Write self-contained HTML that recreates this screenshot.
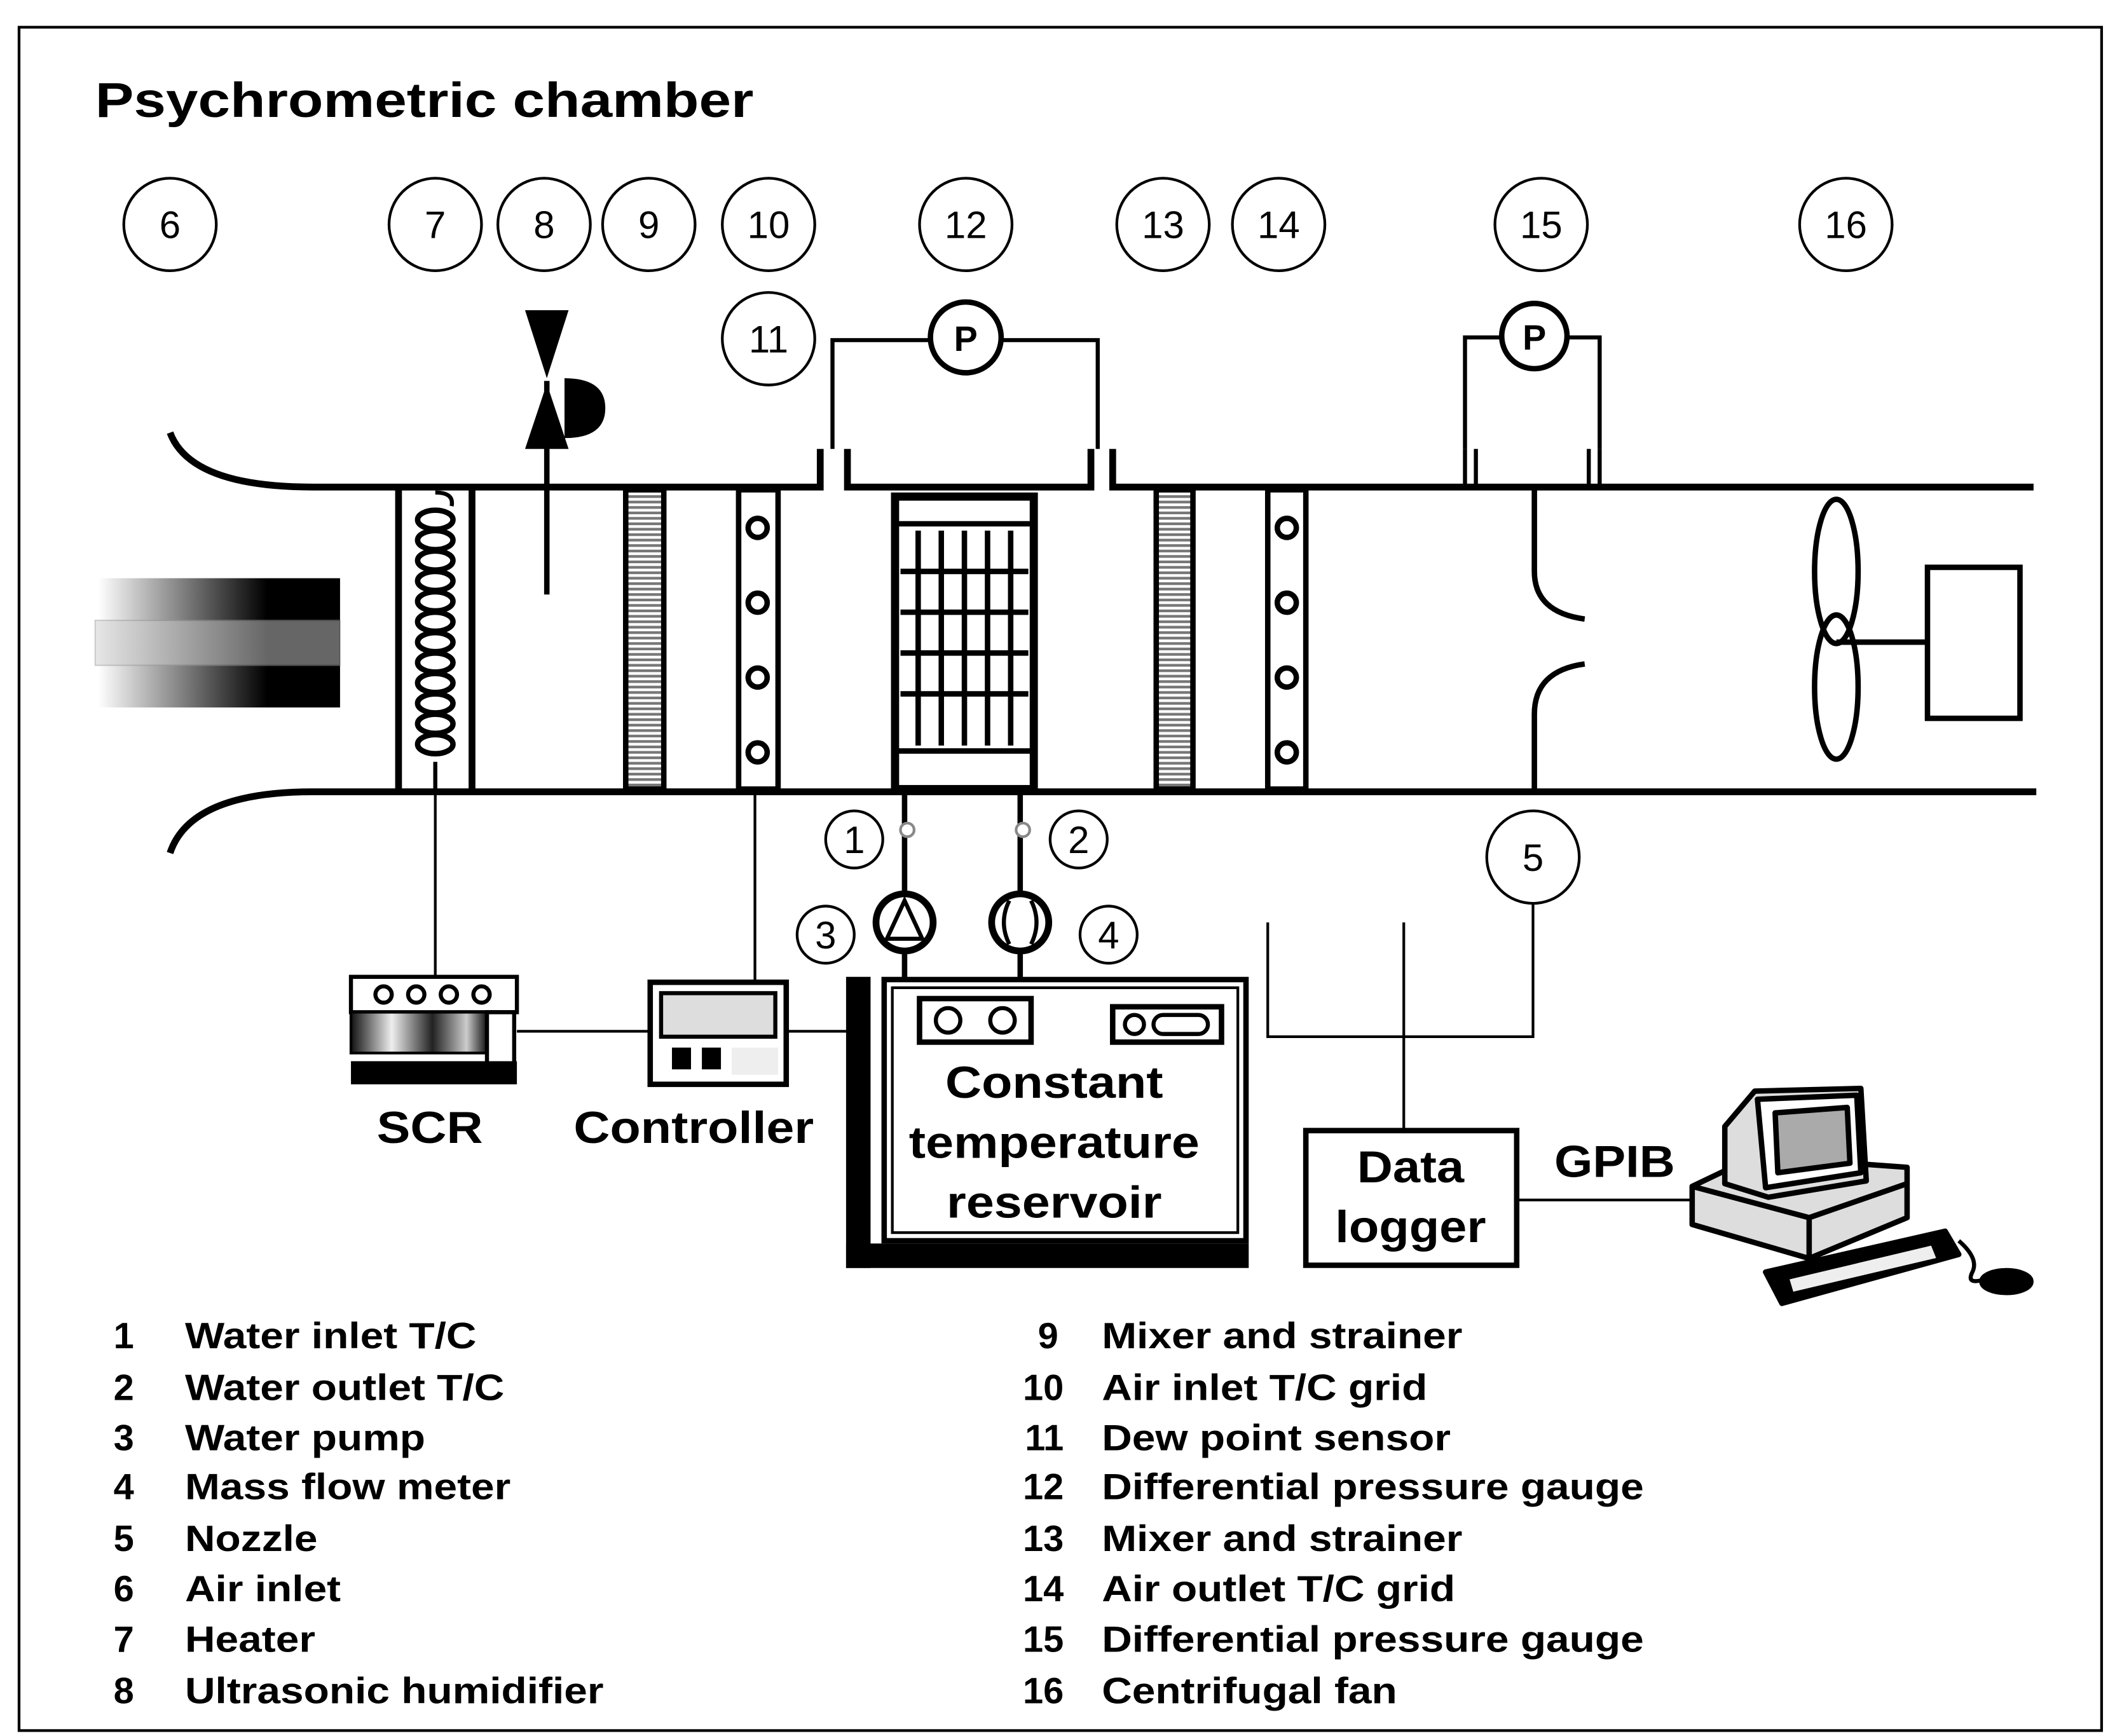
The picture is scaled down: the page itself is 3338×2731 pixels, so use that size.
<!DOCTYPE html>
<html><head><meta charset="utf-8"><style>
html,body{margin:0;padding:0;background:#fff}
svg{display:block}
text{font-family:"Liberation Sans",Arial,sans-serif;fill:#000}
</style></head><body>
<svg width="3338" height="2731" viewBox="0 0 1560 1276" preserveAspectRatio="none" xmlns="http://www.w3.org/2000/svg">
<defs>
<linearGradient id="g1" x1="0" x2="1" y1="0" y2="0"><stop offset="0" stop-color="#fff"/><stop offset="0.7" stop-color="#000"/><stop offset="1" stop-color="#000"/></linearGradient>
<linearGradient id="g2" x1="0" x2="1"><stop offset="0" stop-color="#111"/><stop offset="0.3" stop-color="#eee"/><stop offset="0.6" stop-color="#222"/><stop offset="0.85" stop-color="#ccc"/><stop offset="1" stop-color="#111"/></linearGradient>
<pattern id="hatch" width="4" height="4" patternUnits="userSpaceOnUse"><rect width="4" height="4" fill="#fff"/><rect width="4" height="2" fill="#777"/></pattern>
</defs>
<rect x="14" y="20" width="1531" height="1252" fill="none" stroke="#000" stroke-width="2"/>
<text transform="translate(70,86) scale(1.18,1)" font-size="36" font-weight="bold">Psychrometric chamber</text>
<g fill="none" stroke="#000" stroke-width="2">
<circle cx="125" cy="165" r="34"/><circle cx="320" cy="165" r="34"/><circle cx="400" cy="165" r="34"/><circle cx="477" cy="165" r="34"/><circle cx="565" cy="165" r="34"/><circle cx="710" cy="165" r="34"/><circle cx="855" cy="165" r="34"/><circle cx="940" cy="165" r="34"/><circle cx="1133" cy="165" r="34"/><circle cx="1357" cy="165" r="34"/>
<circle cx="565" cy="249" r="34"/><circle cx="1127" cy="630" r="34"/>
<circle cx="628" cy="617" r="21"/><circle cx="793" cy="617" r="21"/><circle cx="607" cy="687" r="21"/><circle cx="815" cy="687" r="21"/>
</g>
<g font-size="28" text-anchor="middle">
<text x="125" y="175">6</text><text x="320" y="175">7</text><text x="400" y="175">8</text><text x="477" y="175">9</text><text x="565" y="175">10</text><text x="710" y="175">12</text><text x="855" y="175">13</text><text x="940" y="175">14</text><text x="1133" y="175">15</text><text x="1357" y="175">16</text><text x="565" y="259">11</text><text x="1127" y="640">5</text>
<text x="628" y="627">1</text><text x="793" y="627">2</text><text x="607" y="697">3</text><text x="815" y="697">4</text>
</g>
<!-- duct -->
<g fill="none" stroke="#000" stroke-width="5">
<path d="M125 318 Q140 358 230 358 L603 358 L603 330"/>
<path d="M623 330 L623 358 L802 358 L802 330"/>
<path d="M818 330 L818 358 L1495 358"/>
<path d="M125 627 Q140 582 230 582 L1497 582"/>
</g>
<rect x="72" y="425" width="178" height="95" fill="url(#g1)"/>
<rect x="70" y="456" width="180" height="33" fill="#ccc" opacity="0.5" stroke="#999"/>
<!-- heater -->
<g fill="none" stroke="#000" stroke-width="5"><line x1="293" y1="358" x2="293" y2="582"/><line x1="347" y1="358" x2="347" y2="582"/></g>
<path d="M320 362 q14 0 12 10 M320 582 L320 560" fill="none" stroke="#000" stroke-width="3"/>
<g fill="none" stroke="#000" stroke-width="4">
<ellipse cx="320" cy="382" rx="13" ry="7"/><ellipse cx="320" cy="397" rx="13" ry="7"/><ellipse cx="320" cy="412" rx="13" ry="7"/><ellipse cx="320" cy="427" rx="13" ry="7"/><ellipse cx="320" cy="442" rx="13" ry="7"/><ellipse cx="320" cy="457" rx="13" ry="7"/><ellipse cx="320" cy="472" rx="13" ry="7"/><ellipse cx="320" cy="487" rx="13" ry="7"/><ellipse cx="320" cy="502" rx="13" ry="7"/><ellipse cx="320" cy="517" rx="13" ry="7"/><ellipse cx="320" cy="532" rx="13" ry="7"/><ellipse cx="320" cy="547" rx="13" ry="7"/>
</g>
<!-- humidifier -->
<line x1="402" y1="280" x2="402" y2="437" stroke="#000" stroke-width="4"/>
<path d="M386 228 L418 228 L402 278 Z M386 330 L418 330 L402 282 Z" fill="#000"/>
<path d="M415 278 Q445 278 445 300 Q445 322 415 322 Z" fill="#000"/>
<rect x="460" y="360" width="28" height="220" fill="url(#hatch)" stroke="#000" stroke-width="4"/>
<rect x="543" y="360" width="29" height="220" fill="none" stroke="#000" stroke-width="4"/>
<g fill="none" stroke="#000" stroke-width="4"><circle cx="557" cy="388" r="7"/><circle cx="557" cy="443" r="7"/><circle cx="557" cy="498" r="7"/><circle cx="557" cy="553" r="7"/>
<circle cx="946" cy="388" r="7"/><circle cx="946" cy="443" r="7"/><circle cx="946" cy="498" r="7"/><circle cx="946" cy="553" r="7"/></g>
<!-- coil 12 -->
<g fill="none" stroke="#000">
<rect x="658" y="365" width="102" height="215" stroke-width="6"/>
<line x1="658" y1="385" x2="760" y2="385" stroke-width="4"/>
<line x1="658" y1="552" x2="760" y2="552" stroke-width="4"/>
<g stroke-width="4"><line x1="675" y1="390" x2="675" y2="548"/><line x1="692" y1="390" x2="692" y2="548"/><line x1="709" y1="390" x2="709" y2="548"/><line x1="726" y1="390" x2="726" y2="548"/><line x1="743" y1="390" x2="743" y2="548"/>
<line x1="662" y1="420" x2="756" y2="420"/><line x1="662" y1="450" x2="756" y2="450"/><line x1="662" y1="480" x2="756" y2="480"/><line x1="662" y1="510" x2="756" y2="510"/></g>
</g>
<g fill="none" stroke="#000" stroke-width="3">
<path d="M612 330 L612 250 L683 250 M737 250 L807 250 L807 330"/>
<circle cx="710" cy="248" r="26" stroke-width="4"/>
<path d="M1077 330 L1077 248 L1103 248 M1153 248 L1176 248 L1176 330"/>
<circle cx="1128" cy="247" r="24" stroke-width="4"/>
<line x1="1085" y1="330" x2="1085" y2="358"/><line x1="1168" y1="330" x2="1168" y2="358"/>
<line x1="1077" y1="330" x2="1077" y2="358"/><line x1="1176" y1="330" x2="1176" y2="358"/>
</g>
<text x="710" y="258" font-size="26" font-weight="bold" text-anchor="middle">P</text>
<text x="1128" y="257" font-size="26" font-weight="bold" text-anchor="middle">P</text>
<rect x="850" y="360" width="27" height="220" fill="url(#hatch)" stroke="#000" stroke-width="4"/>
<rect x="932" y="360" width="28" height="220" fill="none" stroke="#000" stroke-width="4"/>
<path d="M1128 360 L1128 420 Q1128 450 1165 455 M1128 582 L1128 525 Q1128 493 1165 488" fill="none" stroke="#000" stroke-width="4"/>
<g fill="none" stroke="#000" stroke-width="4">
<ellipse cx="1350" cy="420" rx="16" ry="53"/><ellipse cx="1350" cy="505" rx="16" ry="53"/>
<line x1="1350" y1="472" x2="1417" y2="472"/>
<rect x="1417" y="417" width="68" height="111"/>
</g>
<g stroke="#000" stroke-width="4" fill="none">
<line x1="665" y1="582" x2="665" y2="720"/><line x1="750" y1="582" x2="750" y2="720"/>
</g>
<circle cx="667" cy="610" r="5" fill="#fff" stroke="#888" stroke-width="2"/>
<circle cx="752" cy="610" r="5" fill="#fff" stroke="#888" stroke-width="2"/>
<circle cx="665" cy="678" r="21" fill="#fff" stroke="#000" stroke-width="5"/>
<path d="M652 690 L665 662 L678 690 Z" fill="none" stroke="#000" stroke-width="3"/>
<circle cx="750" cy="678" r="21" fill="#fff" stroke="#000" stroke-width="5"/>
<path d="M742 662 Q734 678 742 694 M758 662 Q766 678 758 694" fill="none" stroke="#000" stroke-width="3"/>
<!-- reservoir -->
<rect x="622" y="718" width="18" height="214" fill="#000"/>
<rect x="622" y="914" width="296" height="18" fill="#000"/>
<rect x="650" y="720" width="266" height="192" fill="#fff" stroke="#000" stroke-width="4"/>
<rect x="656" y="726" width="254" height="180" fill="none" stroke="#000" stroke-width="2"/>
<rect x="676" y="734" width="82" height="32" fill="none" stroke="#000" stroke-width="4"/>
<circle cx="697" cy="750" r="9" fill="none" stroke="#000" stroke-width="3"/><circle cx="737" cy="750" r="9" fill="none" stroke="#000" stroke-width="3"/>
<rect x="818" y="740" width="80" height="26" fill="none" stroke="#000" stroke-width="4"/>
<circle cx="834" cy="753" r="7" fill="none" stroke="#000" stroke-width="3"/><rect x="848" y="746" width="40" height="14" rx="7" fill="none" stroke="#000" stroke-width="3"/>
<g font-size="33" font-weight="bold" text-anchor="middle">
<text transform="translate(775,807) scale(1.12,1)">Constant</text>
<text transform="translate(775,851) scale(1.12,1)">temperature</text>
<text transform="translate(775,895) scale(1.12,1)">reservoir</text></g>
<g stroke="#000" stroke-width="2" fill="none">
<line x1="320" y1="582" x2="320" y2="718"/><line x1="555" y1="582" x2="555" y2="722"/>
<line x1="380" y1="758" x2="478" y2="758"/><line x1="578" y1="758" x2="622" y2="758"/>
<path d="M932 678 L932 762 L1127 762 L1127 664"/><line x1="1032" y1="678" x2="1032" y2="830"/>
<line x1="1115" y1="882" x2="1250" y2="882"/>
</g>
<!-- SCR -->
<rect x="258" y="718" width="122" height="26" fill="#fff" stroke="#000" stroke-width="3"/>
<g fill="none" stroke="#000" stroke-width="3"><circle cx="282" cy="731" r="6"/><circle cx="306" cy="731" r="6"/><circle cx="330" cy="731" r="6"/><circle cx="354" cy="731" r="6"/></g>
<rect x="258" y="744" width="100" height="30" fill="url(#g2)" stroke="#000" stroke-width="2"/>
<rect x="358" y="744" width="20" height="42" fill="#fff" stroke="#000" stroke-width="3"/>
<rect x="258" y="780" width="122" height="17" fill="#000"/>
<text transform="translate(316,840) scale(1.12,1)" font-size="33" font-weight="bold" text-anchor="middle">SCR</text>
<rect x="478" y="722" width="100" height="75" fill="#fff" stroke="#000" stroke-width="4"/>
<rect x="486" y="730" width="84" height="32" fill="#ddd" stroke="#000" stroke-width="3"/>
<rect x="494" y="770" width="14" height="16" fill="#000"/><rect x="516" y="770" width="14" height="16" fill="#000"/>
<rect x="538" y="770" width="34" height="20" fill="#eee"/>
<text transform="translate(510,840) scale(1.12,1)" font-size="33" font-weight="bold" text-anchor="middle">Controller</text>
<rect x="960" y="831" width="155" height="99" fill="#fff" stroke="#000" stroke-width="4"/>
<g font-size="33" font-weight="bold" text-anchor="middle">
<text transform="translate(1037,869) scale(1.1,1)">Data</text>
<text transform="translate(1037,913) scale(1.1,1)">logger</text></g>
<text transform="translate(1187,865) scale(1.1,1)" font-size="33" font-weight="bold" text-anchor="middle">GPIB</text>
<g stroke="#000" stroke-width="4" stroke-linejoin="round">
<path d="M1244 872 L1290 850 L1402 858 L1402 895 L1330 925 L1244 900 Z" fill="#ddd"/>
<path d="M1244 872 L1330 895 L1402 870" fill="none"/>
<line x1="1330" y1="895" x2="1330" y2="925"/>
<path d="M1268 828 L1290 802 L1368 800 L1372 868 L1300 880 L1268 870 Z" fill="#ddd"/>
<path d="M1292 808 L1365 805 L1368 862 L1298 873 Z" fill="#fff"/>
<path d="M1305 818 L1358 814 L1360 855 L1307 862 Z" fill="#aaa"/>
<path d="M1298 935 L1430 905 L1440 922 L1310 958 Z" fill="#000"/>
<path d="M1315 940 L1420 915 L1424 925 L1318 950 Z" fill="#eee" stroke-width="1"/>
<path d="M1440 912 Q1455 925 1450 935 Q1445 945 1460 940" fill="none" stroke-width="3"/>
<ellipse cx="1475" cy="942" rx="18" ry="8" fill="#000"/>
</g>
<!-- legend -->
<g font-size="27" font-weight="bold" fill="#111">
<g text-anchor="middle"><text x="91" y="991">1</text><text x="91" y="1029">2</text><text x="91" y="1066">3</text><text x="91" y="1102">4</text><text x="91" y="1140">5</text><text x="91" y="1177">6</text><text x="91" y="1214">7</text><text x="91" y="1252">8</text></g>
<g transform="translate(136,0) scale(1.14,1)">
<text x="0" y="991">Water inlet T/C</text><text x="0" y="1029">Water outlet T/C</text><text x="0" y="1066">Water pump</text><text x="0" y="1102">Mass flow meter</text><text x="0" y="1140">Nozzle</text><text x="0" y="1177">Air inlet</text><text x="0" y="1214">Heater</text><text x="0" y="1252">Ultrasonic humidifier</text></g>
<g text-anchor="end"><text x="778" y="991">9</text><text x="782" y="1029">10</text><text x="782" y="1066">11</text><text x="782" y="1102">12</text><text x="782" y="1140">13</text><text x="782" y="1177">14</text><text x="782" y="1214">15</text><text x="782" y="1252">16</text></g>
<g transform="translate(810,0) scale(1.14,1)">
<text x="0" y="991">Mixer and strainer</text><text x="0" y="1029">Air inlet T/C grid</text><text x="0" y="1066">Dew point sensor</text><text x="0" y="1102">Differential pressure gauge</text><text x="0" y="1140">Mixer and strainer</text><text x="0" y="1177">Air outlet T/C grid</text><text x="0" y="1214">Differential pressure gauge</text><text x="0" y="1252">Centrifugal fan</text></g>
</g>
</svg>
</body></html>
